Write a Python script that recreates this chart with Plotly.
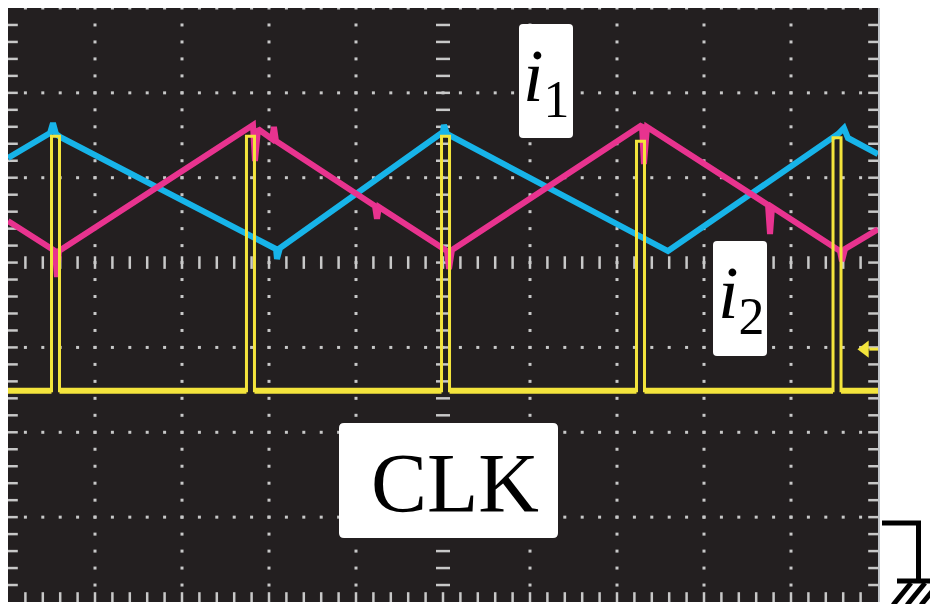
import plotly.graph_objects as go
import numpy as np

# ---------------- data (screen divisions: time 0..10, vertical 0..7) ----------------
i1_t = [0, 0.483, 0.517, 0.552, 0.598, 3.080, 3.092, 3.126, 5.000, 5.011, 5.046,
        7.586, 9.540, 9.609, 9.655, 10.0]
i1_v = [5.232, 5.527, 5.645, 5.515, 5.480, 4.160, 4.042, 4.172, 5.539, 5.621, 5.515,
        4.136, 5.515, 5.585, 5.468, 5.279]

i2_t = [0, 0.540, 0.563, 0.586, 0.621, 2.782, 2.816, 2.839, 2.874, 3.034, 3.057, 3.080,
        4.218, 4.241, 4.264, 5.046, 5.069, 5.103, 7.287, 7.310, 7.345, 8.736, 8.759,
        8.782, 9.563, 9.586, 9.621, 10.0]
i2_v = [4.490, 4.136, 3.830, 4.136, 4.160, 5.597, 5.621, 5.197, 5.574, 5.456, 5.597, 5.433,
        4.667, 4.517, 4.655, 4.136, 3.924, 4.148, 5.621, 5.161, 5.597, 4.678, 4.337,
        4.655, 4.136, 4.018, 4.160, 4.392]

clk_rise_t = [0.50, 2.741, 4.983, 7.224, 9.483]
clk_high_v = [5.49, 5.49, 5.49, 5.43, 5.47]
clk_pulse_w = 0.092
clk_low_v = 2.49
trig_level = 2.98

label_i1 = "<i>i</i><sub>1</sub>"
label_i2 = "<i>i</i><sub>2</sub>"
label_clk = "CLK"

# ---------------- styling ----------------
BG = "#231f20"
GRID = "#c8c8c8"
CYAN = "#17b4e9"
MAGENTA = "#e8338f"
YELLOW = "#f3e43c"

# the page body adds an 8px offset, so the figure is sized to fit inside it
W, H = 930, 596
L, R, T, B = 8, 878, 7, 601   # reference pixel bounds of the screen


def px(x):
    return (x - L) / (R - L)


def py(y):
    return (B - y) / (B - T)


def rrect(x0, y0, x1, y1, r):
    return (f"M {px(x0 + r)} {py(y0)} L {px(x1 - r)} {py(y0)} "
            f"Q {px(x1)} {py(y0)} {px(x1)} {py(y0 + r)} L {px(x1)} {py(y1 - r)} "
            f"Q {px(x1)} {py(y1)} {px(x1 - r)} {py(y1)} L {px(x0 + r)} {py(y1)} "
            f"Q {px(x0)} {py(y1)} {px(x0)} {py(y1 - r)} L {px(x0)} {py(y0 + r)} "
            f"Q {px(x0)} {py(y0)} {px(x0 + r)} {py(y0)} Z")


fig = go.Figure()

# ---------------- graticule ----------------
minor_x = np.round(np.arange(1, 50) * 0.2, 3)
minor_y = np.round(np.arange(1, 35) * 0.2, 3)
gx, gy = [], []
for k in [1, 2, 3, 4, 6, 7, 8, 9]:
    gx += [k] * len(minor_y)
    gy += list(minor_y)
for j in [1, 2, 3, 5, 6]:
    gx += list(minor_x)
    gy += [j] * len(minor_x)
gx += list(minor_x)
gy += [7] * len(minor_x)
fig.add_trace(go.Scatter(x=gx, y=gy, mode="markers", hoverinfo="skip",
                         marker=dict(symbol="square", size=3, color=GRID, line=dict(width=0))))

fig.add_trace(go.Scatter(x=[5] * len(minor_y), y=minor_y, mode="markers", hoverinfo="skip",
                         marker=dict(symbol="line-ew", size=10, line=dict(width=2.5, color=GRID))))
fig.add_trace(go.Scatter(x=minor_x, y=[4] * len(minor_x), mode="markers", hoverinfo="skip",
                         marker=dict(symbol="line-ns", size=9, line=dict(width=2.5, color=GRID))))
fig.add_trace(go.Scatter(x=[0] * len(minor_y) + [10] * len(minor_y), y=list(minor_y) * 2,
                         mode="markers", hoverinfo="skip",
                         marker=dict(symbol="line-ew", size=14, line=dict(width=2.5, color=GRID))))
fig.add_trace(go.Scatter(x=minor_x, y=[0] * len(minor_x), mode="markers", hoverinfo="skip",
                         marker=dict(symbol="line-ns", size=14, line=dict(width=2.5, color=GRID))))

# ---------------- waveforms ----------------
fig.add_trace(go.Scatter(x=i1_t, y=i1_v, mode="lines", hoverinfo="skip",
                         line=dict(color=CYAN, width=6)))
fig.add_trace(go.Scatter(x=i2_t, y=i2_v, mode="lines", hoverinfo="skip",
                         line=dict(color=MAGENTA, width=6)))

cx, cy = [0], [clk_low_v]
bx, by = [0], [clk_low_v]
for t, h in zip(clk_rise_t, clk_high_v):
    cx += [t, t, t + clk_pulse_w, t + clk_pulse_w]
    cy += [clk_low_v, h, h, clk_low_v]
    bx += [t, None, t + clk_pulse_w]
    by += [clk_low_v, None, clk_low_v]
cx.append(10)
cy.append(clk_low_v)
bx.append(10)
by.append(clk_low_v)
fig.add_trace(go.Scatter(x=cx, y=cy, mode="lines", hoverinfo="skip",
                         line=dict(color=YELLOW, width=3)))
fig.add_trace(go.Scatter(x=bx, y=by, mode="lines", hoverinfo="skip",
                         line=dict(color=YELLOW, width=6)))

fig.add_trace(go.Scatter(x=[9.9, 10.0], y=[trig_level, trig_level], mode="lines",
                         hoverinfo="skip", line=dict(color=YELLOW, width=3)))
fig.add_trace(go.Scatter(x=[9.85], y=[trig_level], mode="markers", hoverinfo="skip",
                         marker=dict(symbol="triangle-left", size=15, color=YELLOW,
                                     line=dict(width=0))))

# ---------------- label boxes ----------------
shapes = [
    dict(type="path", xref="paper", yref="paper", path=rrect(519, 23, 573, 137, 4),
         fillcolor="white", line=dict(width=0), layer="above"),
    dict(type="path", xref="paper", yref="paper", path=rrect(713, 240, 767, 355, 4),
         fillcolor="white", line=dict(width=0), layer="above"),
    dict(type="path", xref="paper", yref="paper", path=rrect(339, 422, 558, 537, 5),
         fillcolor="white", line=dict(width=0), layer="above"),
    dict(type="path", xref="paper", yref="paper",
         path=f"M {px(882)} {py(522)} L {px(918.5)} {py(522)} L {px(918.5)} {py(580)}",
         line=dict(color="black", width=5), layer="above"),
    dict(type="line", xref="paper", yref="paper", x0=px(897), x1=px(940), y0=py(580), y1=py(580),
         line=dict(color="black", width=5), layer="above"),
]
for xt, xb in [(911, 893), (925, 907), (939, 921)]:
    shapes.append(dict(type="line", xref="paper", yref="paper",
                       x0=px(xt), y0=py(582), x1=px(xb), y1=py(604),
                       line=dict(color="black", width=5), layer="above"))

annotations = [
    dict(xref="paper", yref="paper", x=px(546), y=py(80), text=label_i1, showarrow=False,
         xanchor="center", yanchor="middle",
         font=dict(family="Liberation Serif", size=74, color="black")),
    dict(xref="paper", yref="paper", x=px(741), y=py(297), text=label_i2, showarrow=False,
         xanchor="center", yanchor="middle",
         font=dict(family="Liberation Serif", size=74, color="black")),
    dict(xref="paper", yref="paper", x=px(455), y=py(482), text=label_clk, showarrow=False,
         xanchor="center", yanchor="middle",
         font=dict(family="Liberation Serif", size=84, color="black")),
]

fig.update_layout(
    width=W, height=H,
    margin=dict(l=0, r=W - (R - L), t=0, b=H - (B - T), pad=0),
    paper_bgcolor="white", plot_bgcolor=BG,
    showlegend=False,
    shapes=shapes, annotations=annotations,
    xaxis=dict(range=[0, 10], showgrid=False, zeroline=False, showticklabels=False,
               ticks="", showline=False, fixedrange=True),
    yaxis=dict(range=[0, 7], showgrid=False, zeroline=False, showticklabels=False,
               ticks="", showline=True, mirror=True, linecolor="#bfc3c8", linewidth=2,
               fixedrange=True),
)

fig.write_html("out.html")
